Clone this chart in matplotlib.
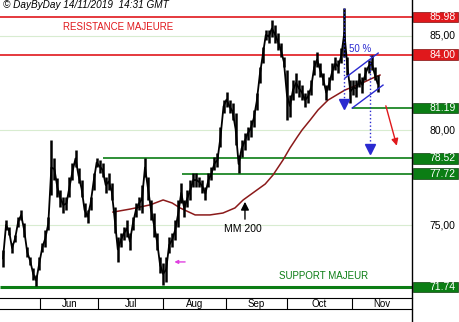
import numpy as np
import matplotlib
matplotlib.use("Agg")
import matplotlib.pyplot as plt
from matplotlib.patches import Rectangle
from matplotlib.lines import Line2D

plt.rcParams['font.family'] = ['Liberation Sans', 'DejaVu Sans']

# daily highs / lows (one bar per trading day, mid-May -> 14 Nov 2019)
highs = [73.69, 75.27, 74.90, 74.06, 74.48, 75.43, 75.80, 75.11, 73.85, 73.32,
         72.74, 72.37, 73.32, 74.06, 74.75, 75.43, 79.49, 78.54, 77.49, 76.86,
         76.49, 76.49, 77.54, 78.28, 78.97, 78.02, 77.38, 76.17, 75.80, 76.49,
         77.75, 78.54, 78.44, 78.28, 77.54, 77.75, 77.23, 75.96, 74.38, 74.59,
         74.90, 75.27, 74.59, 75.43, 76.17, 76.49, 77.12, 78.54, 77.54, 76.33,
         75.64, 74.59, 73.32, 73.01, 73.32, 74.38, 74.59, 75.27, 76.33, 77.23,
         76.33, 76.86, 77.38, 77.75, 77.75, 77.54, 77.38, 77.01, 77.75, 78.07,
         78.60, 78.81, 80.18, 81.60, 82.03, 81.60, 81.45, 80.92, 78.70, 79.49,
         79.86, 80.18, 80.55, 81.08, 81.97, 83.34, 84.40, 85.30, 85.30, 85.82,
         85.56, 85.14, 84.61, 83.87, 83.18, 81.87, 82.66, 83.03, 82.66, 82.39,
         81.97, 82.13, 82.66, 83.71, 84.13, 83.55, 83.03, 82.39, 82.82, 83.55,
         83.87, 83.71, 84.35, 86.45, 83.87, 82.66, 82.66, 82.66, 83.03, 82.82,
         83.34, 83.71, 83.98, 83.34, 82.92]
lows = [72.80, 74.75, 74.48, 73.53, 74.11, 74.90, 75.27, 74.38, 73.32, 72.90,
        72.11, 71.79, 72.64, 73.59, 73.85, 74.75, 76.59, 77.38, 76.49, 75.96,
        75.64, 75.80, 76.49, 77.38, 78.07, 77.23, 76.49, 75.43, 75.11, 75.80,
        76.86, 78.07, 77.75, 77.54, 76.70, 76.86, 76.33, 74.59, 73.06, 73.85,
        74.22, 74.38, 73.69, 74.75, 75.43, 75.80, 75.64, 77.54, 76.33, 75.27,
        74.38, 73.69, 72.48, 71.85, 72.00, 73.53, 73.85, 74.22, 74.90, 76.17,
        75.43, 75.96, 76.33, 77.01, 77.01, 77.01, 76.70, 76.33, 77.01, 77.38,
        77.91, 78.07, 79.13, 80.92, 81.23, 80.92, 80.55, 79.23, 77.75, 78.60,
        78.97, 79.49, 79.65, 80.18, 81.08, 82.50, 83.55, 84.77, 84.61, 84.93,
        84.61, 84.24, 83.87, 83.34, 80.55, 80.71, 81.60, 81.97, 81.76, 81.60,
        81.23, 81.45, 81.87, 82.92, 83.34, 82.82, 82.39, 81.60, 82.13, 82.66,
        83.18, 83.03, 83.55, 83.87, 82.92, 81.45, 81.87, 81.76, 82.29, 81.97,
        82.66, 83.03, 83.18, 82.66, 82.03]

# 200-day moving average (read at a few bars)
ma_idx = [36.4, 42.1, 48.7, 53.0, 56.0, 58.6, 63.6, 68.5, 72.8, 76.8, 79.5, 84.1,
          86.8, 89.4, 92.7, 95.0, 97.4, 99.0, 101.7, 104.3, 107.6, 113.2, 118.9,
          123.2, 124.8]
ma_vals = [75.69, 75.85, 76.07, 76.33, 76.17, 75.91, 75.54, 75.54, 75.64, 75.91,
           76.33, 76.86, 77.17, 77.65, 78.44, 79.07, 79.65, 80.02, 80.55, 81.08,
           81.60, 82.13, 82.50, 82.82, 82.92]

res_levels = [85.98, 84.00]
sup_levels = [81.19, 78.52, 77.72, 71.74]
sup_start = [115.6, 33.1, 59.3, -1.0]
grid_levels = [85.0, 80.0, 75.0]
grid_labels = ['85,00', '80,00', '75,00']

months = ['Jun', 'Jul', 'Aug', 'Sep', 'Oct', 'Nov']
month_bounds = [12.3, 31.5, 53.0, 73.8, 94.0, 115.6, 135.4]

RED = '#e0181c'
GREEN = '#0b7d14'
BLUE = '#2a2ad0'
XMIN, XMAX = -1.0, 135.4
YMIN, YMAX = 71.21, 86.88

fig = plt.figure(figsize=(4.6, 3.22), dpi=100)
ax = fig.add_axes([0, 25 / 322, 412 / 460, 297 / 322])
ax.set_xlim(XMIN, XMAX)
ax.set_ylim(YMIN, YMAX)
for s in ax.spines.values():
    s.set_visible(False)
ax.set_xticks([])
ax.set_yticks([])

for g in grid_levels:
    ax.axhline(g, color='#d8ecd0', lw=0.8, zorder=0)

for r in res_levels:
    ax.axhline(r, color=RED, lw=1.2, zorder=1)
for lv, st in zip(sup_levels, sup_start):
    lw = 2.2 if lv == 71.74 else 1.2
    ax.plot([st, XMAX], [lv, lv], color=GREEN, lw=lw, zorder=1, solid_capstyle='butt')

# price bars
x = np.arange(len(highs))
ax.vlines(x, lows, highs, color='black', lw=1.8, zorder=3)
mids = [(h + l) / 2 for h, l in zip(highs, lows)]
ax.plot(x, mids, color='black', lw=1.3, zorder=3)

ax.plot(ma_idx, ma_vals, color='#8b1a1a', lw=1.1, zorder=2)

# channel
ax.plot([113.2, 124.2], [82.76, 84.08], color=BLUE, lw=1.0, zorder=4)
ax.plot([115.6, 125.8], [81.18, 82.39], color=BLUE, lw=1.0, zorder=4)
ax.text(118.2, 84.29, '50 %', color=BLUE, fontsize=7, ha='center', va='center')

# dotted projections
ax.plot([112.9, 112.9], [86.45, 81.60], color=BLUE, lw=1.0, ls=':', zorder=4)
ax.plot([112.9], [81.39], marker='v', color=BLUE, ms=7, zorder=5)
ax.plot([121.5, 121.5], [83.98, 79.34], color=BLUE, lw=1.0, ls=':', zorder=4)
ax.plot([121.5], [79.02], marker='v', color=BLUE, ms=7, zorder=5)

# red arrow
ax.annotate('', xy=(130.6, 79.05), xytext=(126.5, 81.44),
            arrowprops=dict(arrowstyle='-|>', color=RED, lw=1.0, mutation_scale=10))
# magenta arrow
ax.annotate('', xy=(55.8, 73.06), xytext=(61.2, 73.06),
            arrowprops=dict(arrowstyle='-|>', color='#e040e0', lw=1.0, mutation_scale=5))
# MM 200 arrow
ax.annotate('', xy=(80.1, 76.38), xytext=(80.1, 75.17),
            arrowprops=dict(arrowstyle='-|>', color='black', lw=1.0, mutation_scale=12))
ax.text(79.5, 74.8, 'MM 200', fontsize=7.5, ha='center', va='center')

ax.text(38.1, 85.45, 'RESISTANCE MAJEURE', color=RED, fontsize=7, ha='center', va='center')
ax.text(106, 72.32, 'SUPPORT MAJEUR', color=GREEN, fontsize=7, ha='center', va='center')
ax.text(0.007, 0.983, '\u00a9 DayByDay 14/11/2019  14:31 GMT', transform=ax.transAxes,
        fontsize=7.2, style='italic', ha='left', va='center')

# right scale labels
trans = ax.get_yaxis_transform()
box_h = 0.56
for lv in res_levels + sup_levels:
    col = RED if lv in res_levels else GREEN
    ax.add_patch(Rectangle((1.003, lv - box_h / 2), 0.108, box_h, transform=trans,
                           facecolor=col, edgecolor='#104010' if col == GREEN else '#801010',
                           lw=0.5, clip_on=False, zorder=6))
    ax.text(1.106, lv, f'{lv:.2f}', transform=trans, color='white', fontsize=7.5,
            ha='right', va='center', clip_on=False, zorder=7)
for lv, lab in zip(grid_levels, grid_labels):
    ax.text(1.106, lv, lab, transform=trans, color='black', fontsize=7.5,
            ha='right', va='center', clip_on=False)

# date band
bax = fig.add_axes([0, 13 / 322, 412 / 460, 11 / 322], sharex=ax)
bax.set_ylim(0, 1)
bax.set_xticks([])
bax.set_yticks([])
bax.spines['left'].set_visible(False)
bax.spines['right'].set_visible(False)
for b in month_bounds[:-1]:
    bax.axvline(b, color='black', lw=0.8)
for i, m in enumerate(months):
    bax.text((month_bounds[i] + month_bounds[i + 1]) / 2, 0.45, m, fontsize=7,
             ha='center', va='center')

fig.add_artist(Line2D([412 / 460, 412 / 460], [0, 1], color='black', lw=1.0))

fig.savefig('out.png', dpi=100)
